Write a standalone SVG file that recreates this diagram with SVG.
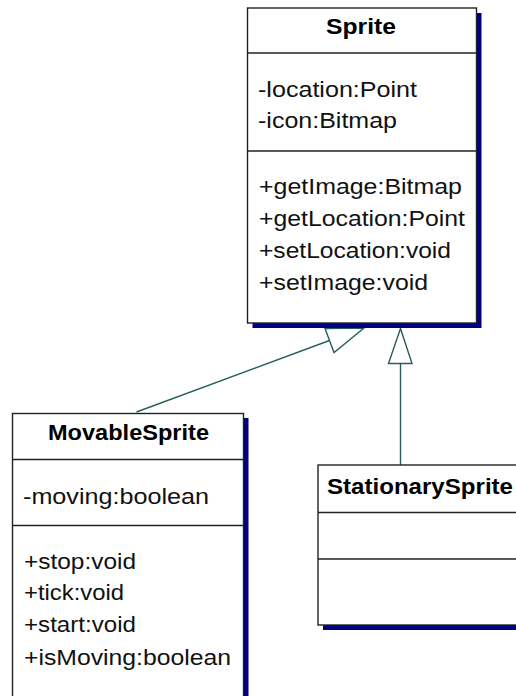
<svg xmlns="http://www.w3.org/2000/svg" width="516" height="696" viewBox="0 0 516 696">
<defs>
<style>
.box{fill:#ffffff;stroke:#222222;stroke-width:1.4}
.shadow{fill:#000080;stroke:none}
.div{stroke:#222222;stroke-width:1.4}
.title{font-family:"Liberation Sans",Arial,sans-serif;font-size:22px;font-weight:bold;fill:#000}
.t{font-family:"Liberation Sans",Arial,sans-serif;font-size:22px;fill:#111}
.conn{fill:none;stroke:#2a5e5e;stroke-width:1.4}
.head{fill:#ffffff;stroke:#2a5e5e;stroke-width:1.4}
</style>
</defs>
<rect width="516" height="696" fill="#ffffff"/>
<g id="connectors">
<line class="conn" x1="136.5" y1="412" x2="329.5" y2="340.5"/>
<polygon class="head" points="325,328.5 334,352.5 364,328"/>
<line class="conn" x1="400.5" y1="363.5" x2="400.5" y2="465"/>
<polygon class="head" points="400.5,328.5 388.5,363.5 412,363.5"/>
</g>
<g id="Sprite">
<rect class="shadow" x="252.5" y="13" width="229" height="315"/>
<rect class="box" x="247.5" y="8" width="229" height="315"/>
<line class="div" x1="247.5" y1="53" x2="476.5" y2="53"/>
<line class="div" x1="247.5" y1="151" x2="476.5" y2="151"/>
<text class="title" x="361" y="34" text-anchor="middle" textLength="70" lengthAdjust="spacingAndGlyphs">Sprite</text>
<text class="t" x="258" y="97" textLength="159" lengthAdjust="spacingAndGlyphs">-location:Point</text>
<text class="t" x="258" y="128" textLength="139" lengthAdjust="spacingAndGlyphs">-icon:Bitmap</text>
<text class="t" x="259" y="194" textLength="203" lengthAdjust="spacingAndGlyphs">+getImage:Bitmap</text>
<text class="t" x="259" y="226" textLength="206" lengthAdjust="spacingAndGlyphs">+getLocation:Point</text>
<text class="t" x="259" y="258" textLength="192" lengthAdjust="spacingAndGlyphs">+setLocation:void</text>
<text class="t" x="259" y="290" textLength="169" lengthAdjust="spacingAndGlyphs">+setImage:void</text>
</g>
<g id="MovableSprite">
<rect class="shadow" x="17.5" y="418" width="231" height="300"/>
<rect class="box" x="12.5" y="413.5" width="231" height="300"/>
<line class="div" x1="12.5" y1="459.5" x2="243.5" y2="459.5"/>
<line class="div" x1="12.5" y1="525.5" x2="243.5" y2="525.5"/>
<text class="title" x="128.5" y="439.5" text-anchor="middle" textLength="161" lengthAdjust="spacingAndGlyphs">MovableSprite</text>
<text class="t" x="23" y="503.5" textLength="186" lengthAdjust="spacingAndGlyphs">-moving:boolean</text>
<text class="t" x="24" y="568.5" textLength="112" lengthAdjust="spacingAndGlyphs">+stop:void</text>
<text class="t" x="24" y="600" textLength="100" lengthAdjust="spacingAndGlyphs">+tick:void</text>
<text class="t" x="24" y="632" textLength="112" lengthAdjust="spacingAndGlyphs">+start:void</text>
<text class="t" x="24" y="664.5" textLength="207" lengthAdjust="spacingAndGlyphs">+isMoving:boolean</text>
</g>
<g id="StationarySprite">
<rect class="shadow" x="323" y="470" width="210" height="160"/>
<rect class="box" x="318" y="465" width="210" height="160"/>
<line class="div" x1="318" y1="512.5" x2="528" y2="512.5"/>
<line class="div" x1="318" y1="559" x2="528" y2="559"/>
<text class="title" x="327" y="493.5" textLength="186" lengthAdjust="spacingAndGlyphs">StationarySprite</text>
</g>
</svg>
